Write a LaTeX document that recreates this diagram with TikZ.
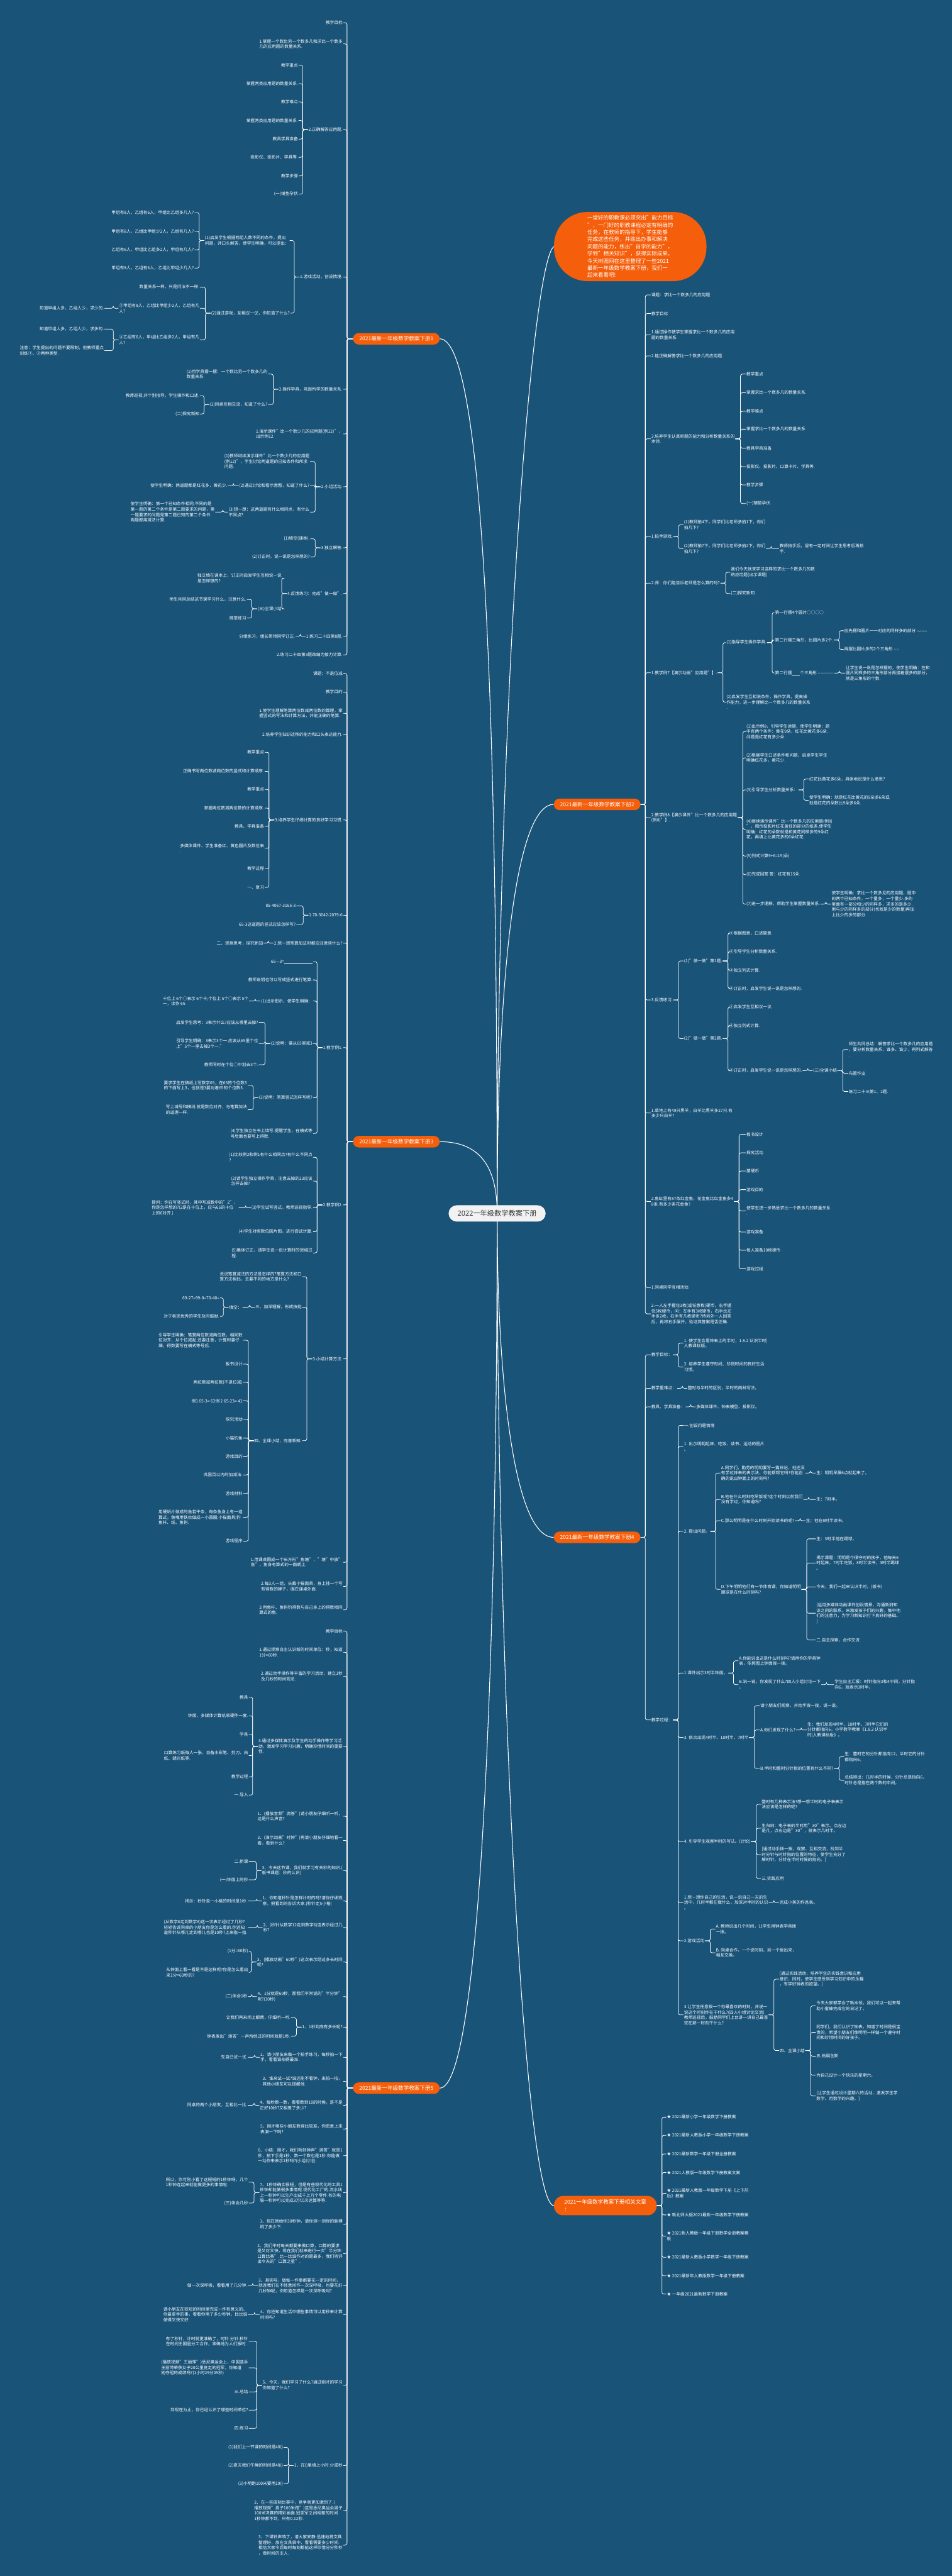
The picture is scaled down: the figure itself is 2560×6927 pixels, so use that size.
\documentclass[tikz,border=0pt]{standalone}
\usepackage{fontspec}
\setmainfont{Noto Sans CJK SC}
\definecolor{bgc}{HTML}{1A5378}
\definecolor{org}{HTML}{F55E0A}
\definecolor{rootc}{HTML}{F2F2F2}
\pgfdeclarelayer{bgl}
\pgfdeclarelayer{lnl}
\pgfsetlayers{bgl,lnl,main}
\tikzset{
 txtnode/.style={text=white,font=\fontsize{11.3}{14.5}\selectfont,align=left,inner sep=1.5pt},
 connln/.style={draw=white,line width=1.3pt,rounded corners=5pt},
 rootln/.style={draw=white,line width=1.8pt},
 orgbox/.style={fill=org,text=white,font=\fontsize{14.5}{18}\selectfont,rounded corners=15.5pt,minimum width=233pt,minimum height=31pt,inner sep=0pt},
}
\newcommand\nodeL[4]{\node[txtnode,anchor=east] (#1) at (#2,#3) {#4};}
\newcommand\nodeR[4]{\node[txtnode,anchor=west] (#1) at (#2,#3) {#4};}
\newcommand\fanL[2]{\foreach \kid in {#2}{\draw[connln] (#1.west) -- ++(-14,0) |- (\kid.east);}}
\newcommand\fanR[2]{\foreach \kid in {#2}{\draw[connln] (#1.east) -- ++(14,0) |- (\kid.west);}}
\newcommand\trunkL[2]{\foreach \kid in {#2}{\draw[connln] (#1.west) -- ++(-16,0) |- (\kid.east);}}
\newcommand\trunkR[2]{\foreach \kid in {#2}{\draw[connln] (#1.east) -- ++(13,0) |- (\kid.west);}}
\begin{document}
\begin{tikzpicture}[x=1pt,y=-1pt]
\begin{pgfonlayer}{bgl}
\fill[bgc] (0,0) rectangle (2560,6927);
\end{pgfonlayer}
\useasboundingbox (0,0) rectangle (2560,6927);

% ---------------- root
\node[fill=rootc,text=black!80,font=\fontsize{19}{22}\selectfont,rounded corners=22pt,minimum width=261pt,minimum height=44pt] (root) at (1337,3263) {2022一年级数学教案下册};

% ---------------- intro
\node[fill=org,text=white,rounded corners=90pt,minimum width=410pt,minimum height=186pt,align=left,font=\fontsize{14.4}{19.3}\selectfont] (intro) at (1695,663) {一堂好的职教课必须突出"能力目标\\"，一门好的职教课程必定有明确的\\任务，在教师的指导下，学生能够\\完成这些任务，并练出办事和解决\\问题的能力，练出"自学的能力"，\\学到"相关知识"，获得实际成果。\\今天树图网在这里整理了一些2021\\最新一年级数学教案下册，我们一\\起来看看吧!};

% ================= Branch 1 (left)
\node[orgbox] (o1) at (1066,911) {2021最新一年级数学教案下册1};
\nodeL{b1a}{923}{61}{教学目标}
\nodeL{b1b}{923}{118}{1.掌握一个数比另一个数多几和求比一个数多\\几的应用题的数量关系.}
\nodeL{b1c}{923}{349}{2.正确解答应用题.}
\nodeL{b1d}{923}{745}{1.游戏活动，创设情境.}
\nodeL{b1e}{923}{1047}{2.操作学具，巩固所学的数量关系.}
\nodeL{b1f}{923}{1167}{1.演示课件"比一个数少几的应用题(例12)"，\\出示例12.}
\nodeL{b1g}{923}{1309}{2.小组活动.}
\nodeL{b1h}{923}{1473}{3.独立解答.}
\nodeL{b1i}{923}{1596}{4.反馈练习：完成"做一做".}
\nodeL{b1j}{923}{1711}{1.练习二十四第8题.}
\nodeL{b1k}{923}{1761}{2.练习二十四第3题改编为接力计算.}

\nodeL{b1c1}{803}{175}{教学重点}
\nodeL{b1c2}{803}{225}{掌握两类应用题的数量关系.}
\nodeL{b1c3}{803}{274}{教学难点}
\nodeL{b1c4}{803}{324}{掌握两类应用题的数量关系.}
\nodeL{b1c5}{803}{374}{教具学具准备}
\nodeL{b1c6}{803}{423}{投影仪、投影片、学具等.}
\nodeL{b1c7}{803}{473}{教学步骤}
\nodeL{b1c8}{803}{522}{(一)铺垫孕伏}

\nodeL{b1d1}{779}{647}{(1)启发学生根据两组人数不同的条件，提出\\问题，并口头解答，使学生明确，可以提出：}
\nodeL{b1d2}{781}{842}{(2)通过游戏，互相议一议，你知道了什么?}
\nodeL{b1d1a}{523}{572}{甲组有8人，乙组有6人，甲组比乙组多几人?}
\nodeL{b1d1b}{523}{622}{甲组有8人，乙组比甲组少2人，乙组有几人?}
\nodeL{b1d1c}{523}{672}{乙组有6人，甲组比乙组多2人，甲组有几人?}
\nodeL{b1d1d}{523}{721}{甲组有8人，乙组有6人，乙组比甲组少几人?}
\nodeL{b1d2a}{538}{772}{数量关系一样，只是问法不一样.}
\nodeL{b1d2b}{538}{829}{②甲组有8人，乙组比甲组少2人，乙组有几\\人?}
\nodeL{b1d2c}{538}{914}{③乙组有6人，甲组比乙组多2人，甲组有几\\人?}
\nodeL{b1d2b1}{281}{829}{知道甲组人多，乙组人少，求少的.}
\nodeL{b1d2c1}{281}{885}{知道甲组人多，乙组人少，求多的.}
\nodeL{b1d2c2}{281}{943}{注意：学生提出的问题不要限制，但教师重点\\训练①、②两种类型.}

\nodeL{b1e1}{721}{1006}{(1)用学具摆一摆：一个数比另一个数多几的\\数量关系.}
\nodeL{b1e2}{721}{1088}{(2)同桌互相交流，知道了什么?}
\nodeL{b1e2a}{538}{1064}{教师巡视,并个别指导，学生操作和口述.}
\nodeL{b1e2b}{538}{1113}{(二)探究新知}

\nodeL{b1g1}{834}{1241}{(1)教师继续演示课件"比一个数少几的应用题\\(例12)"，学生讨论两道题的已知条件和所求\\问题.}
\nodeL{b1g2}{834}{1306}{(2)通过讨论和看示意图，知道了什么?}
\nodeL{b1g3}{834}{1377}{(3)想一想：这两道题有什么相同点，有什么\\不同点?}
\nodeL{b1g2a}{613}{1306}{使学生明确：两道题都是红花多，黄花少.}
\nodeL{b1g3a}{579}{1377}{使学生明确：第一个已知条件相同;不同的是\\第一题的第二个条件是第二题要求的问题，第\\一题要求的问题是第二题已知的第二个条件.\\两题都用减法计算.}

\nodeL{b1h1}{835}{1449}{(1)填空(课本).}
\nodeL{b1h2}{835}{1498}{(2)订正时，说一说是怎样想的?}

\nodeL{b1i1}{759}{1555}{独立填在课本上，订正时启发学生互相说一说\\是怎样想的?}
\nodeL{b1i2}{759}{1637}{(三)全课小结}
\nodeL{b1i2a}{664}{1612}{师生共同总结这节课学习什么，注意什么.}
\nodeL{b1i2b}{664}{1662}{随堂练习}
\nodeL{b1j1}{795}{1711}{分组练习，组长带领同学订正.}

% ================= Branch 3 (left)
\node[orgbox] (o3) at (1066,3070) {2021最新一年级数学教案下册3};
\nodeL{b3a}{923}{1811}{课题：不退位减}
\nodeL{b3b}{923}{1861}{教学目的}
\nodeL{b3c}{923}{1918}{1.使学生理解笔算两位数减两位数的算理，掌\\握竖式的写法和计算方法，并能正确的笔算.}
\nodeL{b3d}{923}{1975}{2.培养学生知识迁移的能力和口头表达能力.}
\nodeL{b3e}{923}{2205}{3.培养学生仔细计算的良好学习习惯.}
\nodeL{b3f}{923}{2461}{1.70-3042-2079-6}
\nodeL{b3g}{923}{2536}{2.想一想笔算加法时都应注意些什么?}
\nodeL{b3h}{923}{2817}{1.教学例1.}
\nodeL{b3i}{923}{3240}{2.教学例2.}
\nodeL{b3j}{923}{3654}{3.小结计算方法.}
\nodeL{b3k}{923}{4201}{1.用课桌围成一个长方形"鱼塘"，"塘"中放"\\鱼"，鱼身有算式的一面朝上.}
\nodeL{b3l}{923}{4266}{2.每3人一组，头戴小猫面具，身上挂一个写\\有得数的牌子，围在课桌外面.}
\nodeL{b3m}{923}{4329}{3.用鱼杆、鱼钩钓得数与自己身上的得数相同\\算式的鱼.}

\nodeL{b3e1}{712}{2023}{教学重点}
\nodeL{b3e2}{712}{2074}{正确书写两位数减两位数的竖式和计算顺序.}
\nodeL{b3e3}{712}{2123}{教学重点}
\nodeL{b3e4}{712}{2173}{掌握两位数减两位数的计算顺序.}
\nodeL{b3e5}{712}{2222}{教具、学具准备}
\nodeL{b3e6}{712}{2281}{多媒体课件、学生准备红、黄色圆片及数位表\\.}
\nodeL{b3e7}{712}{2336}{教学过程}
\nodeL{b3e8}{712}{2386}{一、复习}

\nodeL{b3f1}{797}{2436}{85-4067-3165-3}
\nodeL{b3f2}{797}{2486}{65-3这道题的竖式应该怎样写?}
\nodeL{b3g1}{709}{2536}{二、观察思考，探究新知}

\nodeL{b3h1}{842}{2586}{65—3=\rule[-1.5pt]{76pt}{0.6pt}}
\nodeL{b3h2}{842}{2635}{教师说明也可以写成竖式进行笔算.}
\nodeL{b3h3}{842}{2692}{(1)出示图示，使学生明确：}
\nodeL{b3h4}{842}{2806}{(2)说明：要从65里减3}
\nodeL{b3h5}{842}{2952}{(3)说明：笔算竖式怎样写呢?}
\nodeL{b3h6}{842}{3048}{(4)学生独立在书上填写.提醒学生，在横式等\\号后面也要写上得数.}
\nodeL{b3h3a}{670}{2692}{十位上 6个○表示 6个十;个位上 5个○表示 5个\\一，读作 65.}
\nodeL{b3h4a}{696}{2749}{启发学生思考：3表示什么?应该从哪里去掉?}
\nodeL{b3h4b}{696}{2806}{引导学生明确：3表示3个一.应该从65里个位\\上"5个一里去掉3个一."}
\nodeL{b3h4c}{696}{2863}{教师同时在个位○中划去3个.}
\nodeL{b3h5a}{666}{2919}{要求学生在稿纸上写数字65，在65的个位数5\\的下面写上3，也就是3要对着65的个位数5.}
\nodeL{b3h5b}{666}{2984}{写上减号和横线.就是数位对齐，与笔算加法\\的道理一样.}

\nodeL{b3i1}{842}{3112}{(1)比较例2和例1有什么相同点?有什么不同点\\?}
\nodeL{b3i2}{842}{3176}{(2)请学生独立操作学具，注意去掉的23应该\\怎样去掉?}
\nodeL{b3i3}{842}{3248}{(3)学生试写竖式，教师巡视指导.}
\nodeL{b3i4}{842}{3312}{(4)学生对照数位圆片图，进行尝试计算.}
\nodeL{b3i5}{842}{3369}{(5)集体订正，请学生说一说计算时的思维过\\程.}
\nodeL{b3i3a}{642}{3248}{提问：你在写竖式时，其中写减数中的"2"，\\你是怎样想的?(2是在十位上，应与65的十位\\上的6对齐.)}

\nodeL{b3j1}{813}{3433}{说说笔算减法的方法是怎样的?笔算方法和口\\算方法相比，主要不同的地方是什么?}
\nodeL{b3j2}{813}{3515}{三、加深理解，形成技能}
\nodeL{b3j3}{813}{3874}{四、全课小结，完善新知.}
\nodeL{b3j2a}{652}{3515}{填空：}
\nodeL{b3j2a1}{592}{3490}{69-27=99-8=70-40=}
\nodeL{b3j2a2}{592}{3540}{对于表现优秀的学生及时鼓励.}
\nodeL{b3j3a}{654}{3604}{引导学生明确：笔算两位数减两位数，相同数\\位对齐，从个位减起.还要注意，计算时要仔\\细，得数要写在横式等号后.}
\nodeL{b3j3b}{654}{3668}{板书设计}
\nodeL{b3j3c}{654}{3717}{两位数减两位数(不退位减)}
\nodeL{b3j3d}{654}{3767}{例1 65-3= 62例 2 65-23= 42}
\nodeL{b3j3e}{654}{3817}{探究活动}
\nodeL{b3j3f}{654}{3867}{小猫钓鱼}
\nodeL{b3j3g}{654}{3916}{游戏目的}
\nodeL{b3j3h}{654}{3966}{巩固百以内的加减法.}
\nodeL{b3j3i}{654}{4016}{游戏材料}
\nodeL{b3j3j}{654}{4080}{用硬纸片做成的鱼若干条，每条鱼身上有一道\\算式，鱼嘴用铁丝做成一小圆圈;小猫面具;钓\\鱼杆、线、鱼钩.}
\nodeL{b3j3k}{654}{4144}{游戏程序}

% ================= Branch 5 (left)
\node[orgbox] (o5) at (1066,5615) {2021最新一年级数学教案下册5};
\nodeL{b5a}{923}{4386}{教学目标}
\nodeL{b5b}{923}{4443}{1.通过观察自主认识新的时间单位：秒，知道\\1分=60秒.}
\nodeL{b5c}{923}{4508}{2.通过动手操作等丰富的学习活动，建立1秒\\及几秒的时间观念.}
\nodeL{b5d}{923}{4696}{3.通过多媒体演示及学生的动手操作等学习活\\动，激发学习学习兴趣，明确珍惜时间的重要\\性.}
\nodeL{b5e}{923}{4884}{1、(播放音频"滴答")请小朋友仔细听一听，\\这是什么声音?}
\nodeL{b5f}{923}{4949}{2、(演示动画"时钟")再请小朋友仔细地看一\\看，看到什么?}
\nodeL{b5g}{923}{5030}{3、今天这节课，我们就学习有关秒的知识.(\\板书课题：秒的认识)}
\nodeL{b5h}{923}{5112}{1、你知道秒针是怎样计时的吗?请你仔细观\\察，把看到的告诉大家.(秒针走5小格)}
\nodeL{b5i}{923}{5183}{2、(秒针从数字12走到数字6)这表示经过几\\秒?}
\nodeL{b5j}{923}{5276}{3、(播放动画"60秒")这次表示经过多长时间\\呢?}
\nodeL{b5k}{923}{5369}{4、1分就是60秒，那我们平常说的"半分钟"\\呢?(30秒)}
\nodeL{b5l}{923}{5451}{1、1秒到底有多长呢?}
\nodeL{b5m}{923}{5532}{2、请小朋友来做一个拍手练习，每秒拍一下\\手，看看谁拍得最准.}
\nodeL{b5n}{923}{5597}{3、谁来试一试?谁还能不看钟，来拍一拍，\\其他小朋友可以提醒他.}
\nodeL{b5o}{923}{5661}{4、每秒数一数，看看数到10的时候，是不是\\正好10秒?又相差了多少?}
\nodeL{b5p}{923}{5725}{5、刚才哪些小朋友数得比较准，你愿意上来\\表演一下吗?}
\nodeL{b5q}{923}{5797}{6、小结：刚才，我们听到钟声"滴答"就是1\\秒，拍下手是1秒，数一个数也是1秒.你能做\\一动作来表示1秒吗?(小组讨论)}
\nodeL{b5r}{923}{5896}{7、1秒钟确实很短，但是有些现代化的工具1\\秒钟却能做很多事情呢.现代化工厂的.流水线\\上一秒钟可以生产出成千上万个零件.有的电\\脑一秒钟可以完成3万亿次运算等等.}
\nodeL{b5s}{923}{5981}{1、现在就给你30秒钟，请你测一测你的脉搏\\跳了多少下.}
\nodeL{b5t}{923}{6060}{2、我们平时每天都要来做口算，口算的要求\\是又对又快，现在我们就来进行一次"半分钟\\口算比赛".比一比谁作对的题最多，我们将评\\出今天的"口算之星".}
\nodeL{b5u}{923}{6146}{3、其实呀，做每一件事都要花一定的时间，\\就连我们在不经意间作一次深呼吸，也要花好\\几秒钟呢，你知道怎样是一次深呼吸吗?}
\nodeL{b5v}{923}{6224}{4、你还知道生活中哪些事情可以用秒来计算\\时间吗?}
\nodeL{b5w}{923}{6414}{5、今天，我们学习了什么?通过刚才的学习\\你知道了什么?}
\nodeL{b5x}{923}{6630}{1、在()里填上小时.分或秒}
\nodeL{b5y}{923}{6751}{2、在一些国际比赛中，竞争就更加激烈了.(\\播放视频"男子100米跑")这是悉尼奥运会男子\\100米决赛的精彩画面.冠亚军之间相差的时间\\1秒钟都不到，只有0.12秒.}
\nodeL{b5z}{923}{6844}{3、下课铃声响了，请大家安静.迅速地将文具\\整理好，放在文具袋中，看看需要多少时间.\\相信大家今后每时每刻都能这样珍惜分分秒秒\\，做时间的主人.}

\nodeL{b5d1}{669}{4564}{教具}
\nodeL{b5d2}{669}{4614}{钟面、多媒体计算机软硬件一套.}
\nodeL{b5d3}{669}{4664}{学具}
\nodeL{b5d4}{669}{4721}{口算练习纸每人一张、自备水彩笔、剪刀、白\\纸、蜡光纸等.}
\nodeL{b5d5}{669}{4778}{教学过程}
\nodeL{b5d6}{669}{4827}{一.导入}
\nodeL{b5g1}{669}{5005}{二.新课}
\nodeL{b5g2}{669}{5055}{(一)钟面上的秒}
\nodeL{b5h1}{667}{5112}{揭示：秒针走一小格的时间是1秒.}
\nodeL{b5i1}{667}{5183}{(从数字6走到数字8)这一次表示经过了几秒?\\轻轻告诉同桌的小朋友你是怎么看的.你还知\\道秒针从哪儿走到哪儿也是10秒?上来指一指.}
\nodeL{b5j1}{669}{5247}{(1分=60秒)}
\nodeL{b5j2}{669}{5304}{从钟面上看一看是不是这样呢?你是怎么看出\\来1分=60秒的?}
\nodeL{b5k1}{667}{5369}{(二)体会1秒}
\nodeL{b5l1}{783}{5426}{让我们再来闭上眼睛，仔细听一听.}
\nodeL{b5l2}{783}{5475}{钟表发出"滴答"一声所经过的时间就是1秒.}
\nodeL{b5m1}{667}{5532}{先自已试一试.}
\nodeL{b5o1}{667}{5661}{同桌的两个小朋友，互相比一比.}
\nodeL{b5r1}{669}{5868}{所以，你可别小看了这短短的1秒钟呀，几个\\1秒钟连起来就能做更多的事情啦.}
\nodeL{b5r2}{669}{5924}{(三)体会几秒}
\nodeL{b5u1}{667}{6146}{做一次深呼吸，看看用了几分钟.}
\nodeL{b5v1}{667}{6224}{请小朋友在较短的时间里完成一件有意义的、\\你最拿手的事，看看你用了多少秒钟，比比谁\\做得又快又好.}
\nodeL{b5w1}{669}{6296}{有了秒针，计时就更准确了，时针.分针.秒针\\在时间王国里分工合作，准确地为人们报时.}
\nodeL{b5w2}{669}{6367}{(播放视频"王丽萍")悉尼奥运会上，中国选手\\王丽萍荣获女子20公里竞走的冠军，你知道\\她夺冠的成绩吗?(1小时29分05秒)}
\nodeL{b5w3}{669}{6432}{三.总结}
\nodeL{b5w4}{669}{6481}{到现在为止，你已经认识了哪些时间单位?}
\nodeL{b5w5}{669}{6530}{四.练习}
\nodeL{b5x1}{763}{6581}{(1)我们上一节课的时间是40()}
\nodeL{b5x2}{763}{6630}{(2)夏天我们午睡的时间是40()}
\nodeL{b5x3}{763}{6679}{(3)小明跑100米要用19()}

% ================= Branch 2 (right)
\node[orgbox] (o2) at (1606,2163) {2021最新一年级数学教案下册2};
\nodeR{b2a}{1750}{793}{课题：求比一个数多几的应用题}
\nodeR{b2b}{1750}{843}{教学目标}
\nodeR{b2c}{1750}{900}{1.通过操作使学生掌握求比一个数多几的应用\\题的数量关系.}
\nodeR{b2d}{1750}{957}{2.能正确解答求比一个数多几的应用题.}
\nodeR{b2e}{1750}{1180}{3.培养学生认真审题的能力和分析数量关系的\\本领.}
\nodeR{b2f}{1750}{1443}{1.拍手游戏.}
\nodeR{b2g}{1750}{1568}{2.师：你们能告诉老师是怎么算的吗?}
\nodeR{b2h}{1750}{1809}{1.教学例7【演示动画"应用题"】.}
\nodeR{b2i}{1750}{2199}{2.教学例8【演示课件"比一个数多几的应用题\\(例8)"】.}
\nodeR{b2j}{1750}{2689}{3.反馈练习.}
\nodeR{b2k}{1750}{2993}{1.草地上有49只黑羊，白羊比黑羊多27只.有\\多少只白羊?}
\nodeR{b2l}{1750}{3231}{2.鱼缸里有87条红金鱼，花金鱼比红金鱼多4\\8条.有多少条花金鱼?}
\nodeR{b2m}{1750}{3462}{1.同桌同学互相活动.}
\nodeR{b2n}{1750}{3533}{2.一人左手握住3枚(或任意枚)硬币，右手握\\住5枚硬币，问：左手有3枚硬币，右手比左\\手多2枚，右手有几枚硬币?待另外一人回答\\后，再将右手展开，验证其答案是否正确.}

\nodeR{b2e1}{2006}{1006}{教学重点}
\nodeR{b2e2}{2006}{1056}{掌握求比一个数多几的数量关系.}
\nodeR{b2e3}{2006}{1106}{教学难点}
\nodeR{b2e4}{2006}{1154}{掌握求比一个数多几的数量关系.}
\nodeR{b2e5}{2006}{1205}{教具学具准备}
\nodeR{b2e6}{2006}{1255}{投影仪、投影片、口算卡片、学具等.}
\nodeR{b2e7}{2006}{1304}{教学步骤}
\nodeR{b2e8}{2006}{1354}{(一)铺垫孕伏}

\nodeR{b2f1}{1838}{1411}{(1)教师拍4下，同学们比老师多拍1下，你们\\拍几下?}
\nodeR{b2f2}{1838}{1475}{(2)教师拍7下，同学们比老师多拍2下，你们\\拍几下?}
\nodeR{b2f2a}{2095}{1475}{教师拍手后，留有一定时间让学生思考后再拍\\手.}
\nodeR{b2g1}{1964}{1539}{我们今天就来学习这样的求比一个数多几的数\\的应用题(出示课题)}
\nodeR{b2g2}{1964}{1596}{(二)探究新知}

\nodeR{b2h1}{1952}{1728}{(1)指导学生操作学具.}
\nodeR{b2h2}{1952}{1888}{(2)启发学生互相说条件，操作学具，提高操\\作能力，进一步理解比一个数多几的数量关系\\.}
\nodeR{b2h1a}{2083}{1647}{第一行摆4个圆片○○○○}
\nodeR{b2h1b}{2083}{1721}{第二行摆三角形，比圆片多2个.}
\nodeR{b2h1c}{2083}{1810}{第二行摆\rule[-1.5pt]{22pt}{0.6pt}个三角形 {\fontsize{7}{7}\selectfont △△△△△△}}
\nodeR{b2h1b1}{2269}{1696}{应先摆和圆片一一对应的同样多的部分 {\fontsize{7}{7}\selectfont △△△△}}
\nodeR{b2h1b2}{2269}{1746}{再摆比圆片多的2个三角形 {\fontsize{7}{7}\selectfont △△}}
\nodeR{b2h1c1}{2273}{1810}{让学生说一说是怎样摆的，使学生明确：在和\\圆片同样多的三角形部分再接着摆多的部分，\\就是三角形的个数.}

\nodeR{b2i1}{2006}{1967}{(1)出示例8，引导学生读题，使学生明确：题\\中有两个条件：黄花9朵，红花比黄花多6朵.\\问题是红花有多少朵.}
\nodeR{b2i2}{2006}{2038}{(2)根据学生口述条件和问题，启发学生学生\\明确红花多，黄花少.}
\nodeR{b2i3}{2006}{2124}{(3)引导学生分析数量关系：}
\nodeR{b2i4}{2006}{2230}{(4)继续演示课件"比一个数多几的应用题(例8)\\"，揭示投影片红花盖住的部分的纸条.使学生\\明确：红花的朵数就是和黄花同样多的9朵红\\花，再填上比黄花多的6朵红花.}
\nodeR{b2i5}{2006}{2302}{(5)列式计算9+6=15(朵)}
\nodeR{b2i6}{2006}{2352}{(6)完成回答 答：红花有15朵.}
\nodeR{b2i7}{2006}{2431}{(7)进一步理解，帮助学生掌握数量关系.}
\nodeR{b2i3a}{2175}{2095}{红花比黄花多6朵，具体地说是什么意思?}
\nodeR{b2i3b}{2175}{2152}{使学生明确：就是红花比黄花的9朵多6朵或\\就是红花的朵数比9朵多6朵.}
\nodeR{b2i7a}{2235}{2431}{使学生明确：求比一个数多见的应用题，题中\\的两个已知条件，一个量多，一个量少.多的\\里面有一部分和少的同样多，求多的是多少.\\用与少的同样多的部分(也就是少的数量)再加\\上比少的多的部分.}

\nodeR{b2j1}{1838}{2584}{(1)"做一做"第1题.}
\nodeR{b2j2}{1838}{2793}{(2)"做一做"第2题.}
\nodeR{b2j1a}{1960}{2509}{①根据图意，口述题意.}
\nodeR{b2j1b}{1960}{2559}{②引导学生分析数量关系.}
\nodeR{b2j1c}{1960}{2609}{③独立列式计算.}
\nodeR{b2j1d}{1960}{2658}{④订正时，启发学生说一说是怎样想的.}
\nodeR{b2j2a}{1960}{2708}{①启发学生互相议一议.}
\nodeR{b2j2b}{1960}{2758}{②独立列式计算.}
\nodeR{b2j2c}{1960}{2879}{③订正时，启发学生说一说是怎样想的.}
\nodeR{b2j2c1}{2185}{2879}{(三)全课小结}
\nodeR{b2j2c1a}{2281}{2822}{师生共同总结：解答求比一个数多几的应用题\\，要分析数量关系，谁多、谁少，再列式解答\\.}
\nodeR{b2j2c1b}{2281}{2886}{布置作业}
\nodeR{b2j2c1c}{2281}{2935}{练习二十三第1、2题.}

\nodeR{b2l1}{2006}{3050}{板书设计}
\nodeR{b2l2}{2006}{3100}{探究活动}
\nodeR{b2l3}{2006}{3149}{猜硬币}
\nodeR{b2l4}{2006}{3199}{游戏目的}
\nodeR{b2l5}{2006}{3256}{使学生进一步熟悉求比一个数多几的数量关系\\.}
\nodeR{b2l6}{2006}{3313}{游戏准备}
\nodeR{b2l7}{2006}{3362}{每人准备10枚硬币}
\nodeR{b2l8}{2006}{3412}{游戏过程}

% ================= Branch 4 (right)
\node[orgbox] (o4) at (1606,4134) {2021最新一年级数学教案下册4};
\nodeR{b4a}{1750}{3643}{教学目标：}
\nodeR{b4b}{1750}{3733}{教学重难点：}
\nodeR{b4c}{1750}{3783}{教具、学具准备：}
\nodeR{b4d}{1750}{4625}{教学过程：}
\nodeR{b4a1}{1838}{3612}{1. 使学生会看钟表上的半时，1.8.2 认识半时|\\人教课标版。}
\nodeR{b4a2}{1838}{3676}{2. 培养学生遵守时间、珍惜时间的良好生活\\习惯。}
\nodeR{b4b1}{1848}{3733}{整时与半时的区别，半时的两种写法。}
\nodeR{b4c1}{1871}{3783}{多媒体课件、钟表模型、投影仪。}

\nodeR{b4d1}{1838}{3833}{一.创设问题情境}
\nodeR{b4d2}{1838}{3890}{1. 出示明明起床、吃饭、读书、运动的图片\\。}
\nodeR{b4d3}{1838}{4118}{2. 提出问题。}
\nodeR{b4d4}{1838}{4499}{1.课件出示3时半钟面。}
\nodeR{b4d5}{1838}{4672}{3. 依次出现4时半、10时半、7时半}
\nodeR{b4d6}{1838}{4952}{4. 引导学生观察半时的写法。(讨论)}
\nodeR{b4d7}{1838}{5116}{1.想一想你自己的生活，说一说自己一天的生\\活中，几时半都在做什么，加深对半时的认识\\。}
\nodeR{b4d8}{1838}{5219}{2.游戏活动}
\nodeR{b4d9}{1838}{5418}{3.让学生任意拨一个你最喜欢的时刻，并说一\\说这个时刻你在干什么?(四人小组讨论交流)\\教师巡视后，鼓励同学们上台讲一讲自己最喜\\欢在那一时刻干什么?}

\nodeR{b4d3a}{1938}{3961}{A.同学们，勤劳的明明要写一篇日记，他还没\\有学过钟表的表示法，你能帮帮它吗?你能正\\确的说出钟面上的时刻吗?}
\nodeR{b4d3b}{1938}{4032}{B.他在什么时刻吃早饭呢?这个时刻以前我们\\没有学过，你知道吗?}
\nodeR{b4d3c}{1938}{4089}{C.那么明明是在什么时刻开始读书的呢?}
\nodeR{b4d3d}{1938}{4274}{D.下午明明他们有一节体育课，你知道明明\\踢球是在什么时刻吗?}
\nodeR{b4d3a1}{2194}{3961}{生：明明早晨6点就起来了。}
\nodeR{b4d3b1}{2194}{4032}{生：7时半。}
\nodeR{b4d3c1}{2166}{4089}{生：他在8时半读书。}
\nodeR{b4d3d1}{2194}{4138}{生：3时半他在踢球。}
\nodeR{b4d3d2}{2194}{4203}{揭示课题：明明是个很守时的孩子，他每天6\\时起床，7时半吃饭，8时半读书，3时半踢球\\。}
\nodeR{b4d3d3}{2194}{4267}{今天，我们一起来认识半时。(板书)}
\nodeR{b4d3d4}{2194}{4338}{[运用多媒体动画课件创设情景，沟通新旧知\\识之间的联系，来激发孩子们的兴趣，集中他\\们的注意力，为学习新知识打下良好的基础。\\]}
\nodeR{b4d3d5}{2194}{4410}{二.自主探索，合作交流}

\nodeR{b4d4a}{1986}{4466}{A.你能说出这是什么时刻吗?请用你的学具钟\\表，依照图上钟面拨一拨。}
\nodeR{b4d4b}{1986}{4530}{B.说一说，你发现了什么?四人小组讨论一下\\。}
\nodeR{b4d4b1}{2243}{4530}{学生自主汇报：时针指向3和4中间，分针指\\向6，就表示3时半。}

\nodeR{b4d5a}{2043}{4587}{请小朋友们观察，并动手拨一拨，说一说。}
\nodeR{b4d5b}{2043}{4652}{A.你们发现了什么?}
\nodeR{b4d5c}{2043}{4755}{B.半时和整时分针指的位置有什么不同?}
\nodeR{b4d5b1}{2170}{4652}{生：我们发现4时半、10时半、7时半它们的\\分针都指向6，小学数学教案《1.8.2 认识半\\时|人教课标版》。}
\nodeR{b4d5c1}{2270}{4724}{生：整时它的分针都指向12，半时它的分针\\都指向6。}
\nodeR{b4d5c2}{2270}{4787}{总结得出：几时半的时候，分针总是指向6，\\时针总是指在两个数的中间。}

\nodeR{b4d6a}{2047}{4852}{整时有几种表示法?想一想半时的电子表表示\\法应该是怎样的呢?}
\nodeR{b4d6b}{2047}{4916}{生归纳：电子表的半时用"30"表示。点左边\\是几，点右边是"30"，就表示几时半。}
\nodeR{b4d6c}{2047}{4987}{[通过动手拨一拨，观察、互相交流，找到半\\时分针与时针指的位置的特征，使学生充分了\\解时针、分针在半时时候的指向。]}
\nodeR{b4d6d}{2047}{5051}{三.实践应用}
\nodeR{b4d7a}{2095}{5116}{完成小英的作息表。}
\nodeR{b4d8a}{1924}{5187}{A. 教师说出几个时间，让学生用钟表学具拨\\一拨。}
\nodeR{b4d8b}{1924}{5251}{B. 同桌合作，一个说时刻，另一个拨出来，\\相互交换。}
\nodeR{b4d9a}{2095}{5322}{[通过实践活动，培养学生的实践意识和应用\\意识，同时，使学生感受到学习知识中的乐趣\\，有学好钟表的欲望。]}
\nodeR{b4d9b}{2095}{5514}{四、全课小结}
\nodeR{b4d9b1}{2194}{5394}{今天大家都学会了新本领，我们可以一起来帮\\助小蜜蜂完成它的日记了。}
\nodeR{b4d9b2}{2194}{5465}{同学们，我们认识了钟表，知道了时间是很宝\\贵的，希望小朋友们像明明一样做一个遵守时\\间和珍惜时间的好孩子。}
\nodeR{b4d9b3}{2194}{5529}{五.拓展创新}
\nodeR{b4d9b4}{2194}{5580}{为自己设计一个快乐的星期六。}
\nodeR{b4d9b5}{2194}{5636}{[让学生通过设计星期六的活动，激发学生学\\数学、用数学的兴趣。]}

% ================= Related (right)
\node[fill=org,text=white,rounded corners=24pt,minimum width=276pt,minimum height=52pt,align=left,font=\fontsize{14.5}{20}\selectfont] (o6) at (1628,5931) {2021一年级数学教案下册相关文章\\：};
\nodeR{r1}{1792}{5693}{★ 2021最新小学一年级数学下册教案}
\nodeR{r2}{1792}{5742}{★ 2021最新人教版小学一年级数学下册教案}
\nodeR{r3}{1792}{5792}{★ 2021最新数学一年级下册全册教案}
\nodeR{r4}{1792}{5842}{★ 2021人教版一年级数学下册教案文案}
\nodeR{r5}{1792}{5898}{★ 2021最新人教版一年级数学下册《上下前\\后》教案}
\nodeR{r6}{1792}{5956}{★ 新北师大版2021最新一年级数学下册教案}
\nodeR{r7}{1792}{6013}{★ 2021新人教版一年级下册数学全册教案模\\板}
\nodeR{r8}{1792}{6070}{★ 2021最新人教版小学数学一年级下册教案}
\nodeR{r9}{1792}{6120}{★ 2021最新年人教版数学一年级下册教案}
\nodeR{r10}{1792}{6169}{★ 一年级2021最新数学下册教案}

% ================= connectors
\begin{pgfonlayer}{lnl}
\draw[rootln] (o1.east) .. controls (1300,911) and (1337,1900) .. (root.center);
\draw[rootln] (o3.east) .. controls (1300,3070) and (1337,3150) .. (root.center);
\draw[rootln] (o5.east) .. controls (1300,5615) and (1337,4300) .. (root.center);
\draw[rootln] (intro.west) .. controls (1430,700) and (1337,1900) .. (root.center);
\draw[rootln] (o2.west) .. controls (1390,2163) and (1337,2600) .. (root.center);
\draw[rootln] (o4.west) .. controls (1380,4134) and (1337,3700) .. (root.center);
\draw[rootln] (o6.west) .. controls (1410,5931) and (1337,4500) .. (root.center);

\trunkL{o1}{b1a,b1b,b1c,b1d,b1e,b1f,b1g,b1h,b1i,b1j,b1k}
\fanL{b1c}{b1c1,b1c2,b1c3,b1c4,b1c5,b1c6,b1c7,b1c8}
\fanL{b1d}{b1d1,b1d2}
\fanL{b1d1}{b1d1a,b1d1b,b1d1c,b1d1d}
\fanL{b1d2}{b1d2a,b1d2b,b1d2c}
\fanL{b1d2b}{b1d2b1}
\fanL{b1d2c}{b1d2c1,b1d2c2}
\fanL{b1e}{b1e1,b1e2}
\fanL{b1e2}{b1e2a,b1e2b}
\fanL{b1g}{b1g1,b1g2,b1g3}
\fanL{b1g2}{b1g2a}
\fanL{b1g3}{b1g3a}
\fanL{b1h}{b1h1,b1h2}
\fanL{b1i}{b1i1,b1i2}
\fanL{b1i2}{b1i2a,b1i2b}
\fanL{b1j}{b1j1}

\trunkL{o3}{b3a,b3b,b3c,b3d,b3e,b3f,b3g,b3h,b3i,b3j,b3k,b3l,b3m}
\fanL{b3e}{b3e1,b3e2,b3e3,b3e4,b3e5,b3e6,b3e7,b3e8}
\fanL{b3f}{b3f1,b3f2}
\fanL{b3g}{b3g1}
\fanL{b3h}{b3h1,b3h2,b3h3,b3h4,b3h5,b3h6}
\fanL{b3h3}{b3h3a}
\fanL{b3h4}{b3h4a,b3h4b,b3h4c}
\fanL{b3h5}{b3h5a,b3h5b}
\fanL{b3i}{b3i1,b3i2,b3i3,b3i4,b3i5}
\fanL{b3i3}{b3i3a}
\fanL{b3j}{b3j1,b3j2,b3j3}
\fanL{b3j2}{b3j2a}
\fanL{b3j2a}{b3j2a1,b3j2a2}
\fanL{b3j3}{b3j3a,b3j3b,b3j3c,b3j3d,b3j3e,b3j3f,b3j3g,b3j3h,b3j3i,b3j3j,b3j3k}

\trunkL{o5}{b5a,b5b,b5c,b5d,b5e,b5f,b5g,b5h,b5i,b5j,b5k,b5l,b5m,b5n,b5o,b5p,b5q,b5r,b5s,b5t,b5u,b5v,b5w,b5x,b5y,b5z}
\fanL{b5d}{b5d1,b5d2,b5d3,b5d4,b5d5,b5d6}
\fanL{b5g}{b5g1,b5g2}
\fanL{b5h}{b5h1}
\fanL{b5i}{b5i1}
\fanL{b5j}{b5j1,b5j2}
\fanL{b5k}{b5k1}
\fanL{b5l}{b5l1,b5l2}
\fanL{b5m}{b5m1}
\fanL{b5o}{b5o1}
\fanL{b5r}{b5r1,b5r2}
\fanL{b5u}{b5u1}
\fanL{b5v}{b5v1}
\fanL{b5w}{b5w1,b5w2,b5w3,b5w4,b5w5}
\fanL{b5x}{b5x1,b5x2,b5x3}

\trunkR{o2}{b2a,b2b,b2c,b2d,b2e,b2f,b2g,b2h,b2i,b2j,b2k,b2l,b2m,b2n}
\fanR{b2e}{b2e1,b2e2,b2e3,b2e4,b2e5,b2e6,b2e7,b2e8}
\fanR{b2f}{b2f1,b2f2}
\fanR{b2f2}{b2f2a}
\fanR{b2g}{b2g1,b2g2}
\fanR{b2h}{b2h1,b2h2}
\fanR{b2h1}{b2h1a,b2h1b,b2h1c}
\fanR{b2h1b}{b2h1b1,b2h1b2}
\fanR{b2h1c}{b2h1c1}
\fanR{b2i}{b2i1,b2i2,b2i3,b2i4,b2i5,b2i6,b2i7}
\fanR{b2i3}{b2i3a,b2i3b}
\fanR{b2i7}{b2i7a}
\fanR{b2j}{b2j1,b2j2}
\fanR{b2j1}{b2j1a,b2j1b,b2j1c,b2j1d}
\fanR{b2j2}{b2j2a,b2j2b,b2j2c}
\fanR{b2j2c}{b2j2c1}
\fanR{b2j2c1}{b2j2c1a,b2j2c1b,b2j2c1c}
\fanR{b2l}{b2l1,b2l2,b2l3,b2l4,b2l5,b2l6,b2l7,b2l8}

\trunkR{o4}{b4a,b4b,b4c,b4d}
\fanR{b4a}{b4a1,b4a2}
\fanR{b4b}{b4b1}
\fanR{b4c}{b4c1}
\fanR{b4d}{b4d1,b4d2,b4d3,b4d4,b4d5,b4d6,b4d7,b4d8,b4d9}
\fanR{b4d3}{b4d3a,b4d3b,b4d3c,b4d3d}
\fanR{b4d3a}{b4d3a1}
\fanR{b4d3b}{b4d3b1}
\fanR{b4d3c}{b4d3c1}
\fanR{b4d3d}{b4d3d1,b4d3d2,b4d3d3,b4d3d4,b4d3d5}
\fanR{b4d4}{b4d4a,b4d4b}
\fanR{b4d4b}{b4d4b1}
\fanR{b4d5}{b4d5a,b4d5b,b4d5c}
\fanR{b4d5b}{b4d5b1}
\fanR{b4d5c}{b4d5c1,b4d5c2}
\fanR{b4d6}{b4d6a,b4d6b,b4d6c,b4d6d}
\fanR{b4d7}{b4d7a}
\fanR{b4d8}{b4d8a,b4d8b}
\fanR{b4d9}{b4d9a,b4d9b}
\fanR{b4d9b}{b4d9b1,b4d9b2,b4d9b3,b4d9b4,b4d9b5}

\fanR{o6}{r1,r2,r3,r4,r5,r6,r7,r8,r9,r10}
\end{pgfonlayer}
\end{tikzpicture}
\end{document}
